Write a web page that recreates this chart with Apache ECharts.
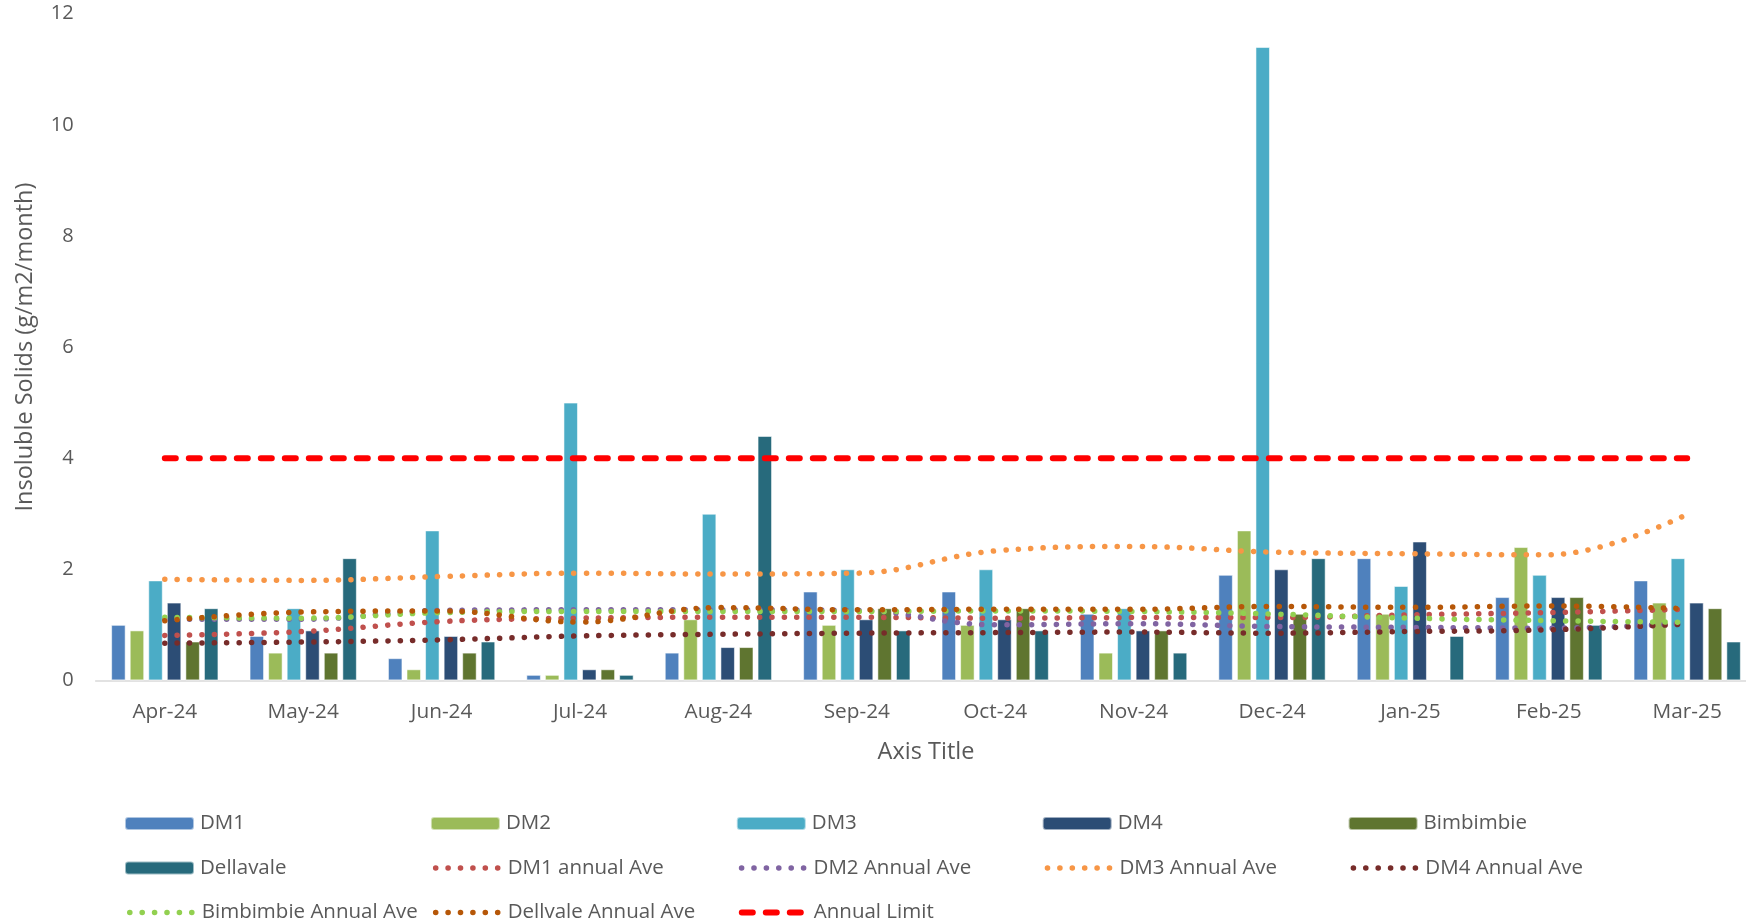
<!DOCTYPE html>
<html>
<head>
<meta charset="utf-8">
<script src="https://cdn.jsdelivr.net/npm/echarts@6/dist/echarts.min.js"></script>
<style>
html,body{margin:0;padding:0;background:#fff;overflow:hidden;}
#chart{width:1757px;height:923px;}
</style>
</head>
<body>
<div id="chart"></div>
<script>
const categories = ['Apr-24','May-24','Jun-24','Jul-24','Aug-24','Sep-24','Oct-24','Nov-24','Dec-24','Jan-25','Feb-25','Mar-25'];
const dm1 = [1.0,0.8,0.4,0.1,0.5,1.6,1.6,1.2,1.9,2.2,1.5,1.8];
const dm2 = [0.9,0.5,0.2,0.1,1.1,1.0,1.0,0.5,2.7,1.2,2.4,1.4];
const dm3 = [1.8,1.3,2.7,5.0,3.0,2.0,2.0,1.3,11.4,1.7,1.9,2.2];
const dm4 = [1.4,0.9,0.8,0.2,0.6,1.1,1.1,0.9,2.0,2.5,1.5,1.4];
const bimbimbie = [0.7,0.5,0.5,0.2,0.6,1.3,1.3,0.9,1.2,null,1.5,1.3];
const dellavale = [1.3,2.2,0.7,0.1,4.4,0.9,0.9,0.5,2.2,0.8,1.0,0.7];
const dm1Ave = [0.81,0.88,1.06,1.12,1.135,1.135,1.12,1.13,1.13,1.18,1.22,1.28];
const dm2Ave = [1.10,1.10,1.26,1.27,1.27,1.26,1.00,1.02,0.97,0.955,0.94,1.03];
const dm3Ave = [1.82,1.80,1.87,1.93,1.915,1.93,2.33,2.41,2.31,2.28,2.26,2.99];
const dm4Ave = [0.67,0.69,0.73,0.80,0.83,0.85,0.86,0.87,0.85,0.88,0.91,1.015];
const bimAve = [1.135,1.12,1.22,1.24,1.24,1.24,1.25,1.24,1.195,1.12,1.075,1.045];
const dellAve = [1.075,1.23,1.25,1.05,1.31,1.27,1.28,1.28,1.33,1.315,1.34,1.29];
const annualLimit = [4,4,4,4,4,4,4,4,4,4,4,4];
const yTicks = {min:0, max:12, interval:2};

const FONT = 'Open Sans';
const TXT = '#595959';

const barDefs = [
  ['DM1', dm1, '#4F81BD'],
  ['DM2', dm2, '#9BBB59'],
  ['DM3', dm3, '#4BACC6'],
  ['DM4', dm4, '#2C4D75'],
  ['Bimbimbie', bimbimbie, '#5F7530'],
  ['Dellavale', dellavale, '#276A7C']
];
const lineDefs = [
  ['DM1 annual Ave', dm1Ave, '#C0504D'],
  ['DM2 Annual Ave', dm2Ave, '#8064A2'],
  ['DM3 Annual Ave', dm3Ave, '#F79646'],
  ['DM4 Annual Ave', dm4Ave, '#772C2A'],
  ['Bimbimbie Annual Ave', bimAve, '#92D050'],
  ['Dellvale Annual Ave', dellAve, '#B65708']
];

const DOT = [0.1, 12.3];
const DASH = [11, 13];
const series = [];
barDefs.forEach(function(d){
  series.push({
    name: d[0], type: 'bar', data: d[1],
    barWidth: 14.5, barGap: '28%',
    itemStyle: {color: d[2], borderColor: 'rgba(255,255,255,0.55)', borderWidth: 1}
  });
});
lineDefs.forEach(function(d){
  series.push({
    name: d[0], type: 'line', data: d[1], smooth: 0.4,
    symbol: 'none', showSymbol: false,
    itemStyle: {color: d[2]},
    lineStyle: {color: d[2], width: 5.5, type: DOT, cap: 'round'}
  });
});
series.push({
  name: 'Annual Limit', type: 'line', data: annualLimit,
  symbol: 'none', showSymbol: false,
  itemStyle: {color: '#FF0000'},
  lineStyle: {color: '#FF0000', width: 6, type: DASH, cap: 'round'}
});

const legendOrder = [
  ['DM1','DM2','DM3','DM4','Bimbimbie'],
  ['Dellavale','DM1 annual Ave','DM2 Annual Ave','DM3 Annual Ave','DM4 Annual Ave'],
  ['Bimbimbie Annual Ave','Dellvale Annual Ave','Annual Limit']
];
const lineNames = lineDefs.map(function(d){return d[0];});
const legends = [];
legendOrder.forEach(function(row, r){
  row.forEach(function(name, c){
    const isLine = lineNames.indexOf(name) >= 0 || name === 'Annual Limit';
    const lg = {
      data: [name],
      left: 124 + 305.9 * c,
      top: 813 + 44.5 * r,
      itemWidth: 69, itemHeight: 13, itemGap: 0,
      selectedMode: false,
      textStyle: {fontFamily: FONT, fontSize: 20.5, color: TXT, padding:[0,0,0,1]},
      padding: 0
    };
    if (isLine) {
      lg.itemStyle = {opacity: 0};
      lg.lineStyle = name === 'Annual Limit'
        ? {width: 6, type: DASH, cap: 'round', dashOffset: -3}
        : {width: 5.5, type: DOT, cap: 'round', dashOffset: -3};
    }
    legends.push(lg);
  });
});

const chart = echarts.init(document.getElementById('chart'), null, {renderer: 'canvas'});
chart.setOption({
  animation: false,
  backgroundColor: '#fff',
  textStyle: {fontFamily: FONT},
  grid: {left: 95.6, width: 1660.8, top: 13.7, height: 666.7, containLabel: false},
  legend: legends,
  xAxis: {
    type: 'category', data: categories,
    name: 'Axis Title', nameLocation: 'middle', nameGap: 60,
    nameTextStyle: {fontFamily: FONT, fontSize: 23.5, color: TXT},
    axisLine: {show: true, lineStyle: {color: '#D9D9D9', width: 1.5}},
    axisTick: {show: false},
    axisLabel: {fontFamily: FONT, fontSize: 20.8, color: TXT, margin: 21}
  },
  yAxis: {
    type: 'value', min: yTicks.min, max: yTicks.max, interval: yTicks.interval,
    name: 'Insoluble Solids (g/m2/month)', nameLocation: 'middle', nameGap: 58,
    nameTextStyle: {fontFamily: FONT, fontSize: 23.5, color: TXT},
    axisLine: {show: false}, axisTick: {show: false},
    splitLine: {show: false},
    axisLabel: {fontFamily: FONT, fontSize: 20, color: TXT, margin: 22, padding: [4, 0, 0, 0]}
  },
  series: series
});
</script>
</body>
</html>
